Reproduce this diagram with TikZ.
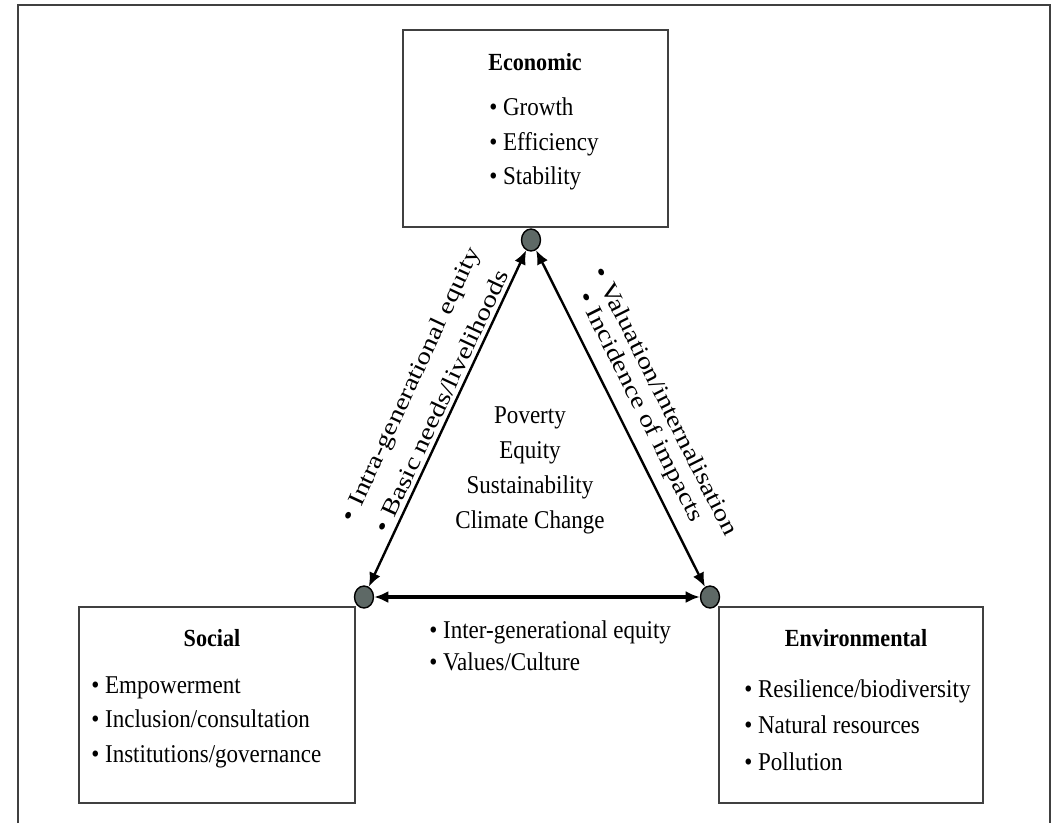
\documentclass[tikz,border=0pt]{standalone}
\usepackage{fontspec}
\setmainfont{Liberation Serif}[FakeStretch=0.9]
\newfontfamily\labelfont{Liberation Serif}[FakeStretch=1.22]
\usetikzlibrary{arrows.meta,shapes.geometric}

\newlength{\du}
\setlength{\du}{0.025cm}

\definecolor{framecolor}{rgb}{0.250000, 0.250000, 0.250000}
\definecolor{dotcolor}{rgb}{0.370000, 0.410000, 0.400000}

\tikzset{
  pillarbox/.style={draw=framecolor, fill=white, line width=1.6pt, inner sep=0pt},
  pillartitle/.style={font=\fontsize{17.5pt}{20pt}\selectfont\bfseries, inner sep=0pt},
  pillarlist/.style={font=\fontsize{18.2pt}{24.5pt}\selectfont, align=left, anchor=west, inner sep=0pt},
  linkdot/.style={ellipse, draw=black, fill=dotcolor, line width=1pt, minimum width=19\du, minimum height=22\du, inner sep=0pt},
  linkarrow/.style={{Latex[length=10pt,width=8.5pt]}-{Latex[length=10pt,width=8.5pt]}, line width=1.7pt},
  linklabel/.style={font=\labelfont\fontsize{16.6pt}{20pt}\selectfont, inner sep=0pt}
}

\begin{document}
\begin{tikzpicture}
\pgftransformxscale{1.000000}
\pgftransformyscale{-1.000000}
\useasboundingbox (0\du,0\du) rectangle (1052\du,823\du);
\draw[framecolor, line width=1.4pt] (18\du,823\du)--(18\du,5\du)--(1050\du,5\du)--(1050\du,823\du);
% pillar boxes
\node[pillarbox, minimum width=265\du, minimum height=197\du] (economic) at (535.5\du,128.5\du) {};
\node[pillarbox, minimum width=276\du, minimum height=196\du] (social) at (217\du,705\du) {};
\node[pillarbox, minimum width=264\du, minimum height=196\du] (environmental) at (851\du,705\du) {};
\node[pillartitle] (economictitle) at (535\du,62\du) {Economic};
\node[pillarlist] (economiclist) at (489\du,144\du) {• Growth\\• Efficiency\\• Stability};
\node[pillartitle] (socialtitle) at (212\du,638\du) {Social};
\node[pillarlist] (sociallist) at (91\du,722\du) {• Empowerment\\• Inclusion/consultation\\• Institutions/governance};
\node[pillartitle] (environmentaltitle) at (856\du,638\du) {Environmental};
\node[pillarlist, font=\fontsize{18.2pt}{26pt}\selectfont] (environmentallist) at (744\du,725\du) {• Resilience/biodiversity\\• Natural resources\\• Pollution};
% links
\node[linkdot] (topdot) at (531\du,240\du) {};
\node[linkdot] (leftdot) at (364\du,597\du) {};
\node[linkdot] (rightdot) at (710\du,597\du) {};
\draw[linkarrow] (leftdot) -- (topdot);
\draw[linkarrow] (topdot) -- (rightdot);
\draw[linkarrow, line width=2.5pt] (leftdot) -- (rightdot);
\node[linklabel, rotate=65] (intralabel) at (412\du,385\du) {• Intra-generational equity};
\node[linklabel, rotate=65] (basiclabel) at (441\du,401\du) {• Basic needs/livelihoods};
\node[linklabel, rotate=-63.4] (valuationlabel) at (666\du,401\du) {• Valuation/internalisation};
\node[linklabel, rotate=-63.4] (incidencelabel) at (640\du,407.5\du) {• Incidence of impacts};
\node[pillarlist, font=\fontsize{18.2pt}{22.8pt}\selectfont] (intergenlabel) at (429\du,646\du) {• Inter-generational equity\\• Values/Culture};
% centre
\node[font=\fontsize{18.2pt}{24.9pt}\selectfont, align=center, inner sep=0pt] (issues) at (530\du,470\du) {Poverty\\Equity\\Sustainability\\Climate Change};
\end{tikzpicture}
\end{document}
